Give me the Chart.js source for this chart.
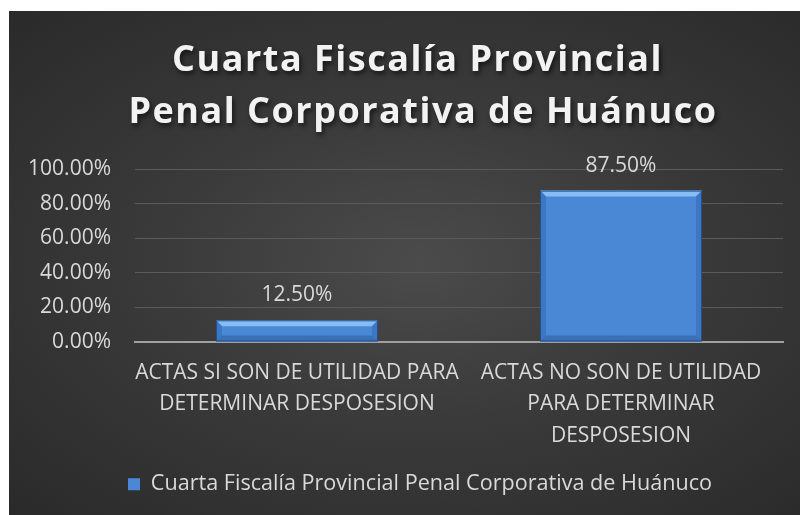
<!DOCTYPE html>
<html>
<head>
<meta charset="utf-8">
<script src="https://cdn.jsdelivr.net/npm/chart.js@4"></script>
<style>
  html, body { margin: 0; padding: 0; background: #fff; overflow: hidden; }
  #wrap {
    position: absolute; left: 9px; top: 11px; width: 822px; height: 504px;
    background: radial-gradient(ellipse farthest-corner at 50% 50%, #4b4b4b 0%, #3a3a3a 45%, #2a2a2a 100%);
  }
  canvas { display: block; }
</style>
</head>
<body>
<div id="wrap"><canvas id="chart" width="822" height="504"></canvas></div>
<script>
// line 1 keeps its trailing space from the wrapped original title
const titleLines = ["Cuarta Fiscalía Provincial ", "Penal Corporativa de Huánuco"];
const seriesName = "Cuarta Fiscalía Provincial Penal Corporativa de Huánuco";
const categories = [
  ["ACTAS SI SON DE UTILIDAD PARA", "DETERMINAR DESPOSESION"],
  ["ACTAS NO SON DE UTILIDAD", "PARA DETERMINAR", "DESPOSESION"]
];
const values = [0.125, 0.875];
const yTicks = [0, 0.2, 0.4, 0.6, 0.8, 1.0];

const pct = v => (v * 100).toFixed(2) + "%";
const textFont = { family: "Open Sans", size: 21 };

// big bold title with shadow, drawn by hand so it can be letter-spaced
const titlePlugin = {
  id: "bigTitle",
  afterDraw(chart) {
    const ctx = chart.ctx;
    ctx.save();
    ctx.font = 'bold 36px "Open Sans"';
    ctx.letterSpacing = "1.5px";
    ctx.fillStyle = "#f2f2f2";
    ctx.textAlign = "center";
    ctx.textBaseline = "alphabetic";
    ctx.shadowColor = "rgba(0,0,0,0.6)";
    ctx.shadowBlur = 5;
    ctx.shadowOffsetX = 2;
    ctx.shadowOffsetY = 3;
    titleLines.forEach((t, i) => ctx.fillText(t, chart.width / 2 + 3, 60 + i * 52));
    ctx.restore();
  }
};

// bevel on bars + value labels
const barPlugin = {
  id: "bevelBars",
  afterDatasetsDraw(chart) {
    const ctx = chart.ctx;
    const meta = chart.getDatasetMeta(0);
    meta.data.forEach((bar, i) => {
      const l = bar.x - bar.width / 2, r = bar.x + bar.width / 2;
      const t = bar.y, b = bar.base;
      const e = Math.min(6, (b - t) / 3);
      ctx.save();
      ctx.fillStyle = "#86bdf3";
      ctx.beginPath();
      ctx.moveTo(l, t); ctx.lineTo(r, t); ctx.lineTo(r - e, t + e); ctx.lineTo(l + e, t + e);
      ctx.closePath(); ctx.fill();
      ctx.fillStyle = "#3d76c2";
      ctx.beginPath();
      ctx.moveTo(l, t); ctx.lineTo(l + e, t + e); ctx.lineTo(l + e, b - e); ctx.lineTo(l, b);
      ctx.closePath(); ctx.fill();
      ctx.beginPath();
      ctx.moveTo(r, t); ctx.lineTo(r - e, t + e); ctx.lineTo(r - e, b - e); ctx.lineTo(r, b);
      ctx.closePath(); ctx.fill();
      ctx.fillStyle = "#3a70b6";
      ctx.beginPath();
      ctx.moveTo(l, b); ctx.lineTo(r, b); ctx.lineTo(r - e, b - e); ctx.lineTo(l + e, b - e);
      ctx.closePath(); ctx.fill();
      ctx.strokeStyle = "#24508a";
      ctx.lineWidth = 1;
      ctx.strokeRect(l + 0.5, t + 0.5, bar.width - 1, b - t - 1);
      ctx.restore();

      ctx.save();
      ctx.font = '21px "Open Sans"';
      ctx.fillStyle = "#d9d9d9";
      ctx.textAlign = "center";
      ctx.textBaseline = "middle";
      ctx.fillText(pct(values[i]), bar.x, bar.y - 25);
      ctx.restore();
    });
  }
};

new Chart(document.getElementById("chart"), {
  type: "bar",
  data: {
    labels: categories,
    datasets: [{
      label: seriesName,
      data: values,
      backgroundColor: "#4a88d6",
      borderWidth: 0,
      categoryPercentage: 1,
      barPercentage: 0.5
    }]
  },
  options: {
    responsive: false,
    animation: false,
    layout: { padding: { top: 158, left: 0, right: 0, bottom: 10 } },
    plugins: {
      title: { display: false },
      tooltip: { enabled: false },
      legend: {
        position: "bottom",
        labels: {
          color: "#d9d9d9",
          font: { family: "Open Sans", size: 21.6 },
          boxWidth: 12,
          boxHeight: 12,
          padding: 8
        }
      }
    },
    scales: {
      x: {
        grid: { display: false },
        border: { display: true, color: "#a0a0a0", width: 2 },
        afterFit: scale => { scale.height += 7; },
        ticks: {
          color: "#d9d9d9",
          font: { family: "Open Sans", size: 21, lineHeight: 1.5 },
          padding: 7,
          maxRotation: 0,
          autoSkip: false
        }
      },
      y: {
        min: 0,
        max: 1,
        afterBuildTicks: scale => { scale.ticks = yTicks.map(v => ({ value: v })); },
        afterFit: scale => { scale.width = 126; },
        grid: { color: "#5a5a5a", lineWidth: 1, drawTicks: false },
        border: { display: false },
        ticks: {
          color: "#d9d9d9",
          font: textFont,
          padding: 24,
          callback: v => pct(v)
        }
      },
      // empty right-hand axis: only holds the right margin so the legend stays centred on the canvas
      spacer: {
        type: "linear",
        position: "right",
        grid: { display: false },
        border: { display: false },
        ticks: { display: false },
        afterFit: scale => { scale.width = 48; }
      }
    }
  },
  plugins: [titlePlugin, barPlugin]
});
</script>
</body>
</html>
